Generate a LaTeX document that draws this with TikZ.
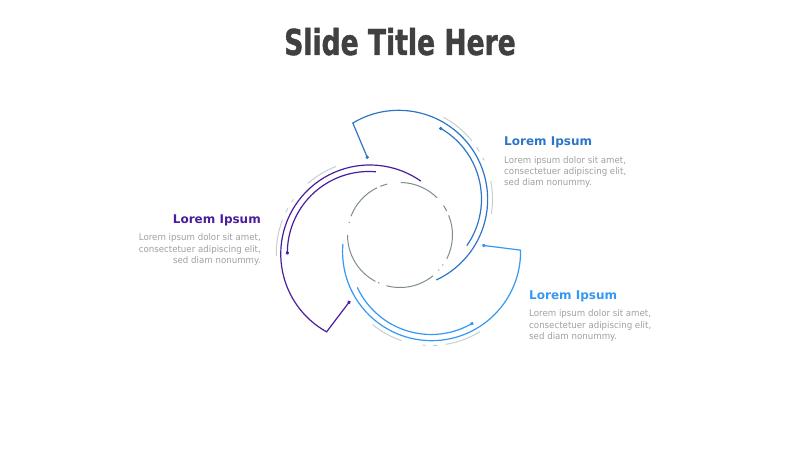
\documentclass[tikz,border=0pt]{standalone}
\usepackage{fontspec}
\setmainfont{DejaVu Sans}
\newfontfamily\titlefont[FakeStretch=0.745,FakeBold=1.2]{DejaVu Sans}
\newfontfamily\bodyfont[FakeStretch=0.94]{DejaVu Sans}
\usetikzlibrary{positioning}
\definecolor{titlegray}{HTML}{404040}
\definecolor{bodygray}{HTML}{A0A0A0}
\definecolor{swirlblue}{HTML}{2E75C6}
\definecolor{swirlpurple}{HTML}{4A1D9E}
\definecolor{swirlsky}{HTML}{3498F5}
\definecolor{ringgray}{HTML}{7F8C8D}
\definecolor{halogray}{HTML}{C5D1D0}
\definecolor{speck}{HTML}{9C84D6}

\begin{document}
\begin{tikzpicture}[x=1pt,y=1pt,
  head/.style={font=\bfseries\fontsize{12}{14}\selectfont,inner sep=0pt},
  blurb/.style={font=\bodyfont\fontsize{9.2}{11.2}\selectfont,text=bodygray,inner sep=0pt},
  swirl/.style={line width=1.2pt},
  ring/.style={line width=1pt,draw=ringgray},
  halo/.style={line width=1pt,draw=halogray}]
  \useasboundingbox (0,0) rectangle (800,450);
  \coordinate (O) at (400,215);

  \node[font=\titlefont\bfseries\fontsize{35.7}{40}\selectfont,text=titlegray,anchor=base] (title) at (400,395) {Slide Title Here};

  % inner ring
  \foreach \a/\b in {116/159,104/112,45/89,27/34,-27/22,-105/-51,180/242}
    \draw[ring] (O) ++(\a:52.5) arc[start angle=\a,end angle=\b,radius=52.5];
  \foreach \a in {166,-35,-42,-114}
    \fill[speck] (O) ++(\a:52.3) circle[radius=0.8];

  % three swirls
  \foreach \rot/\col in {0/swirlblue,120/swirlpurple,240/swirlsky}{
    \begin{scope}[shift={(O)},rotate=\rot]
      \coordinate (corner\rot) at (112.85:121.5);
      \coordinate (tip\rot) at (112.85:84.4);
      \draw[swirl,\col] (tip\rot) -- (corner\rot) arc[start angle=121,end angle=-65,radius=89];
      \fill[\col] (tip\rot) circle[radius=1.9];
      \draw[swirl,\col] (0,36) ++(60:81.5) coordinate (inner\rot) arc[start angle=60,end angle=-35,radius=81.5];
      \fill[\col] (inner\rot) circle[radius=1.9];
      \foreach \a/\b in {39/62,31/34,24.6/26.5,-9.4/11.3}
        \draw[halo] (0,36) ++(\a:92.5) arc[start angle=\a,end angle=\b,radius=92.5];
    \end{scope}
  }

  % captions
  \node[head,text=swirlblue,anchor=base west] (headA) at (504,304.3) {Lorem Ipsum};
  \node[blurb,align=left,below right=10.4pt and 0pt of headA.base west] (textA) {Lorem ipsum dolor sit amet,\\consectetuer adipiscing elit,\\sed diam nonummy.};

  \node[head,text=swirlpurple,anchor=base east] (headB) at (261,226.7) {Lorem Ipsum};
  \node[blurb,align=right,below left=10.4pt and 0pt of headB.base east] (textB) {Lorem ipsum dolor sit amet,\\consectetuer adipiscing elit,\\sed diam nonummy.};

  \node[head,text=swirlsky,anchor=base west] (headC) at (529,150.7) {Lorem Ipsum};
  \node[blurb,align=left,below right=10.4pt and 0pt of headC.base west] (textC) {Lorem ipsum dolor sit amet,\\consectetuer adipiscing elit,\\sed diam nonummy.};
\end{tikzpicture}
\end{document}
